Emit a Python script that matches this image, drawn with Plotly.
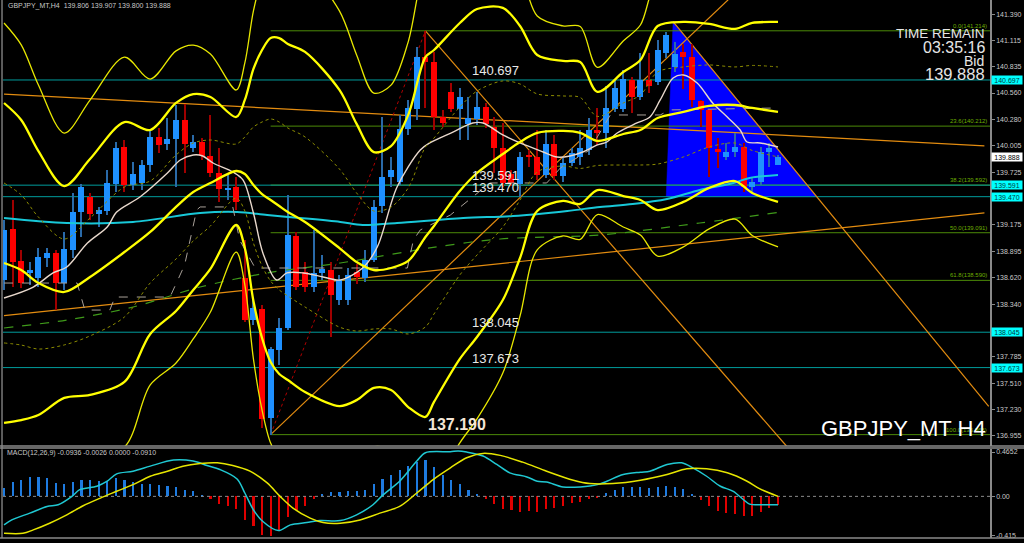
import plotly.graph_objects as go

# ---------------- DATA ----------------
opens = [138.59, 139.13, 138.79, 138.67, 138.62, 138.83, 138.88, 138.56, 138.91, 139.31,
         139.47, 139.29, 139.32, 139.60, 139.99, 139.59, 139.61, 139.80, 140.10, 140.02,
         140.08, 140.28, 139.98, 140.04, 139.90, 139.72, 139.55, 139.57, 138.62, 138.17,
         138.29, 137.14, 137.86, 138.09, 139.06, 138.68, 138.52, 138.67, 138.70, 138.38,
         138.38, 138.68, 138.61, 138.80, 139.37, 139.68, 139.62, 140.18, 140.39, 140.94,
         140.89, 140.31, 140.57, 140.39, 140.23, 140.29, 140.41, 140.20, 139.98, 139.71,
         139.60, 139.91, 139.89, 139.70, 140.02, 139.69, 139.82, 139.89, 139.96, 140.17,
         140.14, 140.39, 140.39, 140.70, 140.52, 140.70, 140.68, 140.98, 140.83, 140.99,
         140.94, 140.48, 140.38, 139.97, 139.89, 139.94, 139.99, 139.57, 139.62, 139.94,
         139.806]
highs = [139.22, 139.44, 138.91, 138.78, 138.93, 138.93, 138.91, 139.10, 139.51, 139.60,
         139.51, 139.36, 139.75, 140.05, 140.07, 139.83, 139.86, 140.17, 140.19, 140.30,
         140.43, 140.44, 140.12, 140.09, 140.33, 139.98, 139.70, 139.68, 139.01, 138.38,
         138.33, 137.89, 138.19, 139.49, 139.10, 138.78, 139.12, 138.86, 138.78, 138.65,
         138.72, 138.76, 138.91, 139.44, 140.31, 139.89, 140.33, 140.49, 141.04, 141.214,
         140.99, 140.38, 140.67, 140.61, 140.52, 140.57, 140.45, 140.31, 140.25, 139.75,
         139.94, 139.96, 140.17, 140.17, 140.12, 139.88, 139.98, 140.17, 140.30, 140.40,
         140.63, 140.70, 140.80, 140.73, 140.98, 140.98, 141.12, 141.20, 141.10, 141.08,
         141.08, 140.49, 140.39, 140.09, 140.03, 140.14, 140.03, 139.68, 139.99, 140.03,
         139.907]
lows = [138.49, 138.52, 138.51, 138.54, 138.52, 138.73, 138.28, 138.49, 138.83, 139.05,
        139.23, 139.15, 139.28, 139.52, 139.52, 139.54, 139.54, 139.73, 139.93, 139.96,
        139.57, 139.72, 139.94, 139.86, 139.68, 139.41, 139.43, 139.33, 138.15, 138.12,
        137.04, 136.968, 137.70, 138.07, 138.49, 138.47, 138.47, 138.59, 137.99, 138.33,
        138.33, 138.55, 138.57, 138.78, 139.30, 139.57, 139.59, 140.12, 140.28, 140.40,
        140.17, 140.20, 140.36, 140.07, 140.07, 140.22, 140.19, 139.72, 139.57, 139.58,
        139.47, 139.78, 139.65, 139.67, 139.65, 139.62, 139.79, 139.80, 139.91, 140.01,
        139.98, 140.36, 140.36, 140.35, 140.49, 140.56, 140.64, 140.93, 140.78, 140.60,
        140.41, 140.20, 139.68, 139.77, 139.86, 139.89, 139.52, 139.52, 139.59, 139.78,
        139.800]
closes = [139.12, 138.78, 138.56, 138.70, 138.84, 138.88, 138.56, 138.92, 139.31, 139.57,
          139.29, 139.33, 139.61, 139.98, 139.59, 139.71, 139.80, 140.10, 140.01, 140.08,
          140.28, 140.02, 140.04, 139.90, 139.72, 139.55, 139.56, 139.41, 138.17, 138.30,
          137.13, 137.87, 138.09, 139.07, 138.52, 138.52, 138.67, 138.71, 138.44, 138.59,
          138.65, 138.63, 138.80, 139.36, 139.68, 139.75, 140.18, 140.40, 140.94, 140.89,
          140.31, 140.24, 140.39, 140.52, 140.30, 140.41, 140.23, 139.98, 139.61, 139.61,
          139.89, 139.89, 139.70, 140.02, 139.69, 139.82, 139.93, 139.98, 140.17, 140.14,
          140.40, 140.61, 140.71, 140.52, 140.70, 140.63, 141.01, 141.17, 140.97, 140.94,
          140.49, 140.38, 139.98, 139.95, 139.94, 139.99, 139.57, 139.62, 139.94, 139.98,
          139.888]

# Bollinger: middle line and one standard deviation (price units)
bb_idx = [0, 2, 4, 7, 10, 14, 17, 20, 22, 24, 27, 28, 29, 30, 31, 32, 33, 35, 39, 41,
          43, 45, 47, 49, 50, 53, 55, 58, 60, 62, 65, 67, 69, 72, 74, 76, 79, 82, 85, 87, 90]
bb_mid = [138.773, 138.699, 138.562, 138.468, 138.626, 138.888, 139.099, 139.362, 139.519, 139.614,
          139.740, 139.709, 139.593, 139.498, 139.435, 139.372, 139.309, 139.204, 138.930, 138.783,
          138.699, 138.720, 138.794, 139.046, 139.162, 139.530, 139.719, 139.919, 140.045, 140.140,
          140.161, 140.140, 140.056, 140.129, 140.171, 140.297, 140.361, 140.424, 140.434, 140.403,
          140.361]
bb_sd = [0.841, 0.789, 0.694, 0.557, 0.620, 0.683, 0.536, 0.547, 0.515, 0.452,
         0.284, 0.389, 0.610, 0.757, 0.852, 0.883, 0.883, 0.894, 0.831, 0.726,
         0.620, 0.641, 0.768, 0.946, 0.925, 0.883, 0.862, 0.768, 0.610, 0.410,
         0.368, 0.373, 0.258, 0.326, 0.368, 0.484, 0.473, 0.431, 0.400, 0.447,
         0.473]

fast_idx = [0, 3.4, 5.7, 7.3, 9.7, 12.0, 13.1, 15.8, 19.0, 20.5, 22.0, 23.1, 24.3, 26.6, 27.8,
            29.0, 30.1, 31.7, 32.9, 34.8, 37.1, 39.1, 41.7, 43.4, 45.7, 48.4, 49.5, 52.2, 54.5,
            55.7, 58.0, 60.0, 62.7, 64.3, 65.8, 67.3, 69.0, 70.1, 71.3, 73.6, 75.1, 76.3, 77.8,
            79.0, 80.6, 82.4, 84.1, 85.6, 86.4, 87.9, 90]
fast_ma = [138.405, 138.520, 138.668, 138.731, 138.983, 139.151, 139.309, 139.467, 139.719, 139.856,
           139.908, 139.898, 139.824, 139.730, 139.645, 139.298, 138.878, 138.594, 138.668, 138.668,
           138.626, 138.594, 138.720, 138.941, 139.572, 139.961, 140.035, 140.150, 140.245, 140.245,
           140.119, 140.035, 139.940, 139.887, 139.898, 139.940, 140.014, 140.045, 140.140, 140.245,
           140.308, 140.487, 140.718, 140.750, 140.665, 140.455, 140.308, 140.171, 140.045, 140.035,
           139.992]

base_idx = [0, 8.5, 9.4, 12.3, 12.9, 19.3, 21.0, 22.4, 22.8, 26.6, 27.4, 29.2, 46.9, 47.6, 48.4,
            51.9, 56.5, 63.1, 64.7, 68.1, 70.5, 76.3, 77.4, 90]
base_line = [138.562, 138.562, 138.278, 138.278, 138.415, 138.415, 138.752, 139.330, 139.362, 139.362,
             139.014, 138.720, 138.720, 139.014, 139.120, 139.277, 139.614, 139.614, 139.772, 139.961,
             140.329, 140.329, 140.382, 140.403]

slow_idx = [0, 7.3, 15.0, 22.8, 27.1, 30.6, 34.4, 39.1, 41.7, 45.7, 53.4, 59.2, 65.5, 69.3, 73.1,
            77.1, 80.9, 84.8, 86.7, 90]
slow_ma = [139.246, 139.193, 139.204, 139.298, 139.309, 139.277, 139.246, 139.204, 139.172, 139.193,
           139.246, 139.267, 139.320, 139.362, 139.393, 139.446, 139.540, 139.614, 139.667, 139.698]

long_idx = [0, 7.3, 15.0, 22.8, 30.6, 39.1, 49.5, 57.7, 69.3, 80.9, 90]
long_ma = [138.089, 138.173, 138.310, 138.520, 138.668, 138.773, 138.931, 139.025, 139.067, 139.193,
           139.305]

macd_hist = [0.088, 0.148, 0.176, 0.200, 0.200, 0.194, 0.141, 0.134, 0.155, 0.176,
             0.176, 0.166, 0.159, 0.194, 0.169, 0.148, 0.134, 0.127, 0.120, 0.113,
             0.102, 0.070, 0.053, 0.018, -0.028, -0.078, -0.106, -0.134, -0.247, -0.310,
             -0.405, -0.412, -0.359, -0.218, -0.148, -0.099, -0.028, 0.028, 0.049, 0.049,
             0.060, 0.060, 0.070, 0.134, 0.187, 0.229, 0.275, 0.317, 0.359, 0.380,
             0.307, 0.229, 0.176, 0.134, 0.070, 0.028, -0.025, -0.078, -0.130, -0.148,
             -0.159, -0.152, -0.159, -0.130, -0.123, -0.099, -0.074, -0.056, -0.028, -0.007,
             0.035, 0.070, 0.095, 0.095, 0.095, 0.088, 0.102, 0.113, 0.102, 0.081,
             0.025, -0.035, -0.106, -0.152, -0.176, -0.183, -0.211, -0.211, -0.169, -0.123,
             -0.088]
macd_idx = [0, 0.9, 3.0, 5.0, 6.3, 7.9, 8.8, 10.8, 12.0, 13.1, 15.0, 17.0, 19.7, 22.0, 23.6,
            25.1, 27.1, 28.0, 29.0, 30.1, 31.9, 33.3, 35.2, 36.7, 39.1, 41.0, 42.9, 44.1, 46.0,
            48.0, 49.0, 51.9, 52.8, 53.8, 55.7, 57.3, 58.8, 60.8, 62.0, 63.1, 65.0, 67.0, 69.0,
            70.1, 72.0, 74.0, 75.1, 77.1, 78.8, 80.1, 81.7, 83.3, 84.8, 86.7, 87.9, 90]
macd_line = [-0.300, -0.247, -0.176, -0.106, -0.088, 0.000, 0.070, 0.106, 0.159, 0.236, 0.264,
             0.317, 0.381, 0.370, 0.324, 0.282, 0.183, 0.035, -0.141, -0.264, -0.359, -0.299,
             -0.275, -0.254, -0.254, -0.194, -0.088, 0.018, 0.159, 0.370, 0.458, 0.468, 0.476,
             0.465, 0.423, 0.335, 0.247, 0.204, 0.159, 0.151, 0.099, 0.099, 0.123, 0.159, 0.229,
             0.254, 0.264, 0.335, 0.352, 0.299, 0.211, 0.106, 0.053, -0.081, -0.088, -0.088]
signal_idx = [0, 2.2, 3.4, 5.3, 7.3, 9.2, 11.2, 13.1, 15.0, 17.0, 19.0, 20.8, 22.8, 24.8, 26.6,
              28.6, 30.6, 32.1, 33.6, 35.6, 37.1, 39.1, 41.4, 43.7, 46.0, 48.0, 49.9, 51.9, 53.8,
              55.7, 57.7, 60.3, 63.1, 66.2, 68.1, 70.8, 74.0, 77.1, 79.4, 81.7, 84.1, 86.4, 87.9, 90]
signal_line = [-0.388, -0.388, -0.352, -0.282, -0.194, -0.099, -0.018, 0.053, 0.123, 0.211, 0.264,
               0.317, 0.345, 0.352, 0.324, 0.264, 0.141, 0.000, -0.123, -0.229, -0.275, -0.282,
               -0.247, -0.176, -0.106, 0.035, 0.176, 0.299, 0.405, 0.451, 0.430, 0.359, 0.264,
               0.169, 0.134, 0.134, 0.169, 0.229, 0.289, 0.289, 0.247, 0.159, 0.078, 0.000]

level_prices = [140.697, 139.591, 139.470, 138.045, 137.673, 136.843]
boxed_levels = [140.697, 139.591, 139.470, 138.045, 137.673]
bid_price = 139.888
swing_low_idx, swing_low = 31, 136.968
swing_high_idx, swing_high = 49, 141.214
fib_ratios = [0.0, 23.6, 38.2, 50.0, 61.8, 100.0]
fib_prices = [141.214, 140.212, 139.592, 139.091, 138.590, 136.968]

trend_lines = [
    ((0.0, 140.548), (114.0, 140.005)),
    ((0.0, 138.220), (114.0, 139.300)),
    ((31.0, 136.968), (84.2, 141.540)),
    ((49.0, 141.214), (91.0, 136.846)),
    ((77.8, 141.310), (114.5, 137.266)),
]
triangle_idx = [77.8, 94.5, 77.0]
triangle_price = [141.31, 139.47, 139.47]

price_ticks = [141.390, 141.115, 140.835, 140.560, 140.280, 140.005, 139.725, 139.175,
               138.895, 138.620, 138.340, 137.785, 137.510, 137.230, 136.955]
macd_ticks = [0.4652, 0.0, -0.415]
macd_tick_text = ["0.4652", "0.00", "-0.415"]
mark_label = 137.190

# ---------------- LAYOUT CONSTANTS ----------------
W, H = 1024, 543
ML, MR, MT, MB = 3, 34, 0, 5
PLOT_H = H - MT - MB
PLOT_W = W - ML - MR
XMIN, XMAX = -0.12, 114.65
PMIN, PMAX = 136.8485, 141.538
MMIN, MMAX = -0.437, 0.497
MAIN_BOTTOM = 1 - 446 / PLOT_H
MACD_TOP = 1 - 449 / PLOT_H
FONT = "Liberation Sans"

fig = go.Figure()
shapes = []


def add_line(x, y, color, width, dash="solid", shape="linear", xa="x", ya="y"):
    fig.add_trace(go.Scatter(x=x, y=y, mode="lines", xaxis=xa, yaxis=ya,
                             line=dict(color=color, width=width, dash=dash, shape=shape,
                                       smoothing=0.9 if shape == "spline" else None),
                             hoverinfo="skip", showlegend=False))


def seg(x0, y0, x1, y1, color, width, dash="solid"):
    shapes.append(dict(type="line", xref="x", yref="y", x0=x0, y0=y0, x1=x1, y1=y1,
                       layer="below", line=dict(color=color, width=width, dash=dash)))


# objects drawn behind the candles
tri_path = "M {},{} L {},{} L {},{} Z".format(triangle_idx[0], triangle_price[0],
                                             triangle_idx[1], triangle_price[1],
                                             triangle_idx[2], triangle_price[2])
shapes.append(dict(type="path", xref="x", yref="y", path=tri_path, layer="below",
                   fillcolor="#0000ff", line=dict(color="#0000ff", width=0.5)))
for p in fib_prices:
    seg(swing_low_idx, p, XMAX, p, "#4c8a08", 1)
for p in level_prices:
    seg(XMIN, p, XMAX, p, "#009c9c", 1)
for (a, b) in trend_lines:
    seg(a[0], a[1], b[0], b[1], "#e38c10", 1.2)
seg(swing_low_idx, swing_low, swing_high_idx, swing_high, "#b00000", 1, dash="dot")

# candles: wicks (thin bars) then bodies
for bull, col in ((True, "#2a6aa8"), (False, "#a00000")):
    wx, wb, wh = [], [], []
    for i in range(len(opens)):
        if (closes[i] >= opens[i]) == bull:
            wx.append(i)
            wb.append(lows[i])
            wh.append(highs[i] - lows[i])
    fig.add_trace(go.Bar(x=wx, y=wh, base=wb, width=0.13, marker=dict(color=col, line=dict(width=0)),
                         hoverinfo="skip", showlegend=False))
for bull, col in ((True, "#1e90ff"), (False, "#ff0000")):
    bx, bb, bh = [], [], []
    for i in range(len(opens)):
        if (closes[i] >= opens[i]) == bull:
            bx.append(i)
            bb.append(min(opens[i], closes[i]))
            bh.append(max(abs(closes[i] - opens[i]), 0.012))
    fig.add_trace(go.Bar(x=bx, y=bh, base=bb, width=0.7, marker=dict(color=col, line=dict(width=0)),
                         hoverinfo="skip", showlegend=False))

# MACD histogram
hist_idx = list(range(len(macd_hist)))
fig.add_trace(go.Bar(x=hist_idx, y=macd_hist, width=0.25, xaxis="x2", yaxis="y2",
                     marker=dict(color=["#1e7be0" if v >= 0 else "#e00000" for v in macd_hist],
                                 line=dict(width=0)),
                     hoverinfo="skip", showlegend=False))

# moving averages
add_line(long_idx, long_ma, "#3f9a1a", 1.2, dash="dash", shape="spline")
add_line(slow_idx, slow_ma, "#18c8d8", 2, shape="spline")
add_line(base_idx, base_line, "#a8a098", 1, dash="dash")
add_line(fast_idx, fast_ma, "#e8d8cc", 1.4, shape="spline")

# Bollinger bands
for k, col, wd, dsh in ((3, "#e8e800", 1.3, "solid"), (2, "#ffff00", 2.3, "solid"),
                        (1, "#8c8c00", 1, "dot")):
    add_line(bb_idx, [m - k * s for m, s in zip(bb_mid, bb_sd)], col, wd, dash=dsh, shape="spline")
    add_line(bb_idx, [m + k * s for m, s in zip(bb_mid, bb_sd)], col, wd, dash=dsh, shape="spline")
add_line(bb_idx, bb_mid, "#ffff00", 2.3, shape="spline")

# MACD lines
add_line([XMIN, XMAX], [0, 0], "#8a8a8a", 1, dash="dot", xa="x2", ya="y2")
add_line(macd_idx, macd_line, "#20c8d2", 1.5, shape="spline", xa="x2", ya="y2")
add_line(signal_idx, signal_line, "#e6e600", 1.5, shape="spline", xa="x2", ya="y2")

ann = []
for p in level_prices:
    ann.append(dict(x=(470 - ML) / PLOT_W, xref="paper", y=p, yref="y", text=f"{p:.3f}",
                    showarrow=False, xanchor="left", yanchor="bottom",
                    font=dict(family=FONT, size=13, color="#e8e8e8")))
ann.append(dict(x=(426 - ML) / PLOT_W, xref="paper", y=mark_label, yref="y",
                text=f"<b>{mark_label:.3f}</b>", showarrow=False, xanchor="left", yanchor="top",
                font=dict(family=FONT, size=16, color="#f4e6d6")))
for r, p in zip(fib_ratios, fib_prices):
    ann.append(dict(x=(989 - ML) / PLOT_W, xref="paper", y=p, yref="y",
                    text=f"{r:.1f}({p:.3f})", showarrow=False, xanchor="right", yanchor="bottom",
                    font=dict(family=FONT, size=6, color="#6cae00")))
for p in boxed_levels:
    ann.append(dict(x=(991 - ML) / PLOT_W, xref="paper", y=p, yref="y", text=f"{p:.3f}",
                    showarrow=False, xanchor="left", yanchor="middle", bgcolor="#00ffff",
                    width=30, height=8, borderpad=0, align="center",
                    font=dict(family=FONT, size=7, color="#003c3c")))
ann.append(dict(x=(991 - ML) / PLOT_W, xref="paper", y=bid_price, yref="y",
                text=f"{bid_price:.3f}", showarrow=False, xanchor="left", yanchor="middle",
                bgcolor="#ffffff", width=30, height=8, borderpad=0, align="center",
                font=dict(family=FONT, size=7, color="#000000")))


def ptxt(text, xpx, ypx, size, anchor="right", color="#e6e6e6"):
    ann.append(dict(x=(xpx - ML) / PLOT_W, xref="paper", y=1 - (ypx - MT) / PLOT_H,
                    yref="paper", text=text, showarrow=False, xanchor=anchor, yanchor="middle",
                    font=dict(family=FONT, size=size, color=color)))


ptxt("TIME REMAIN", 987, 34, 13.5)
ptxt("03:35:16", 987, 47, 16)
ptxt("Bid", 986, 61, 14)
ptxt(f"{bid_price:.3f}", 987, 74, 16.5)
ptxt("GBPJPY_MT H4", 988, 428, 22, color="#ffffff")
ptxt("GBPJPY_MT,H4  139.806 139.907 139.800 139.888", 6, 6, 7, anchor="left", color="#c8c8c8")
ptxt("MACD(12,26,9) -0.0936 -0.0026 0.0000 -0.0910", 5, 453, 7, anchor="left", color="#c8c8c8")

shapes += [
    dict(type="line", xref="paper", yref="paper", x0=-0.001, x1=-0.001, y0=0, y1=1,
         line=dict(color="#7a7a7a", width=1.5)),
    dict(type="line", xref="paper", yref="paper", x0=-0.003, x1=1.035, y0=MAIN_BOTTOM, y1=MAIN_BOTTOM,
         line=dict(color="#8a8a8a", width=1.5)),
    dict(type="line", xref="paper", yref="paper", x0=-0.003, x1=1.035, y0=MACD_TOP + 0.002,
         y1=MACD_TOP + 0.002, line=dict(color="#8a8a8a", width=1.5)),
    dict(type="line", xref="paper", yref="paper", x0=-0.003, x1=1.035, y0=0, y1=0,
         line=dict(color="#8a8a8a", width=1.5)),
]

axis_common = dict(showgrid=False, zeroline=False, showticklabels=False, ticks="",
                   range=[XMIN, XMAX], fixedrange=True)
ytick_common = dict(showgrid=False, zeroline=False, side="right", ticks="outside", ticklen=3,
                    tickcolor="#8a8a8a", showline=True, linecolor="#8a8a8a", linewidth=1.5,
                    tickfont=dict(family=FONT, size=7, color="#c8c8c8"), fixedrange=True)

fig.update_layout(
    width=W, height=H, margin=dict(l=ML, r=MR, t=MT, b=MB, autoexpand=False),
    paper_bgcolor="#000000", plot_bgcolor="#000000", barmode="overlay", bargap=0,
    showlegend=False, hovermode=False,
    xaxis=dict(domain=[0, 1], anchor="y", **axis_common),
    xaxis2=dict(domain=[0, 1], anchor="y2", **axis_common),
    yaxis=dict(domain=[MAIN_BOTTOM, 1], anchor="x", range=[PMIN, PMAX], tickvals=price_ticks,
               ticktext=[f"{v:.3f}" for v in price_ticks], **ytick_common),
    yaxis2=dict(domain=[0, MACD_TOP], anchor="x2", range=[MMIN, MMAX], tickvals=macd_ticks,
                ticktext=macd_tick_text, **ytick_common),
    annotations=ann, shapes=shapes,
)

fig.write_html("out.html", config={"displayModeBar": False},
               post_script="document.body.style.margin='0';document.body.style.background='#000';")
